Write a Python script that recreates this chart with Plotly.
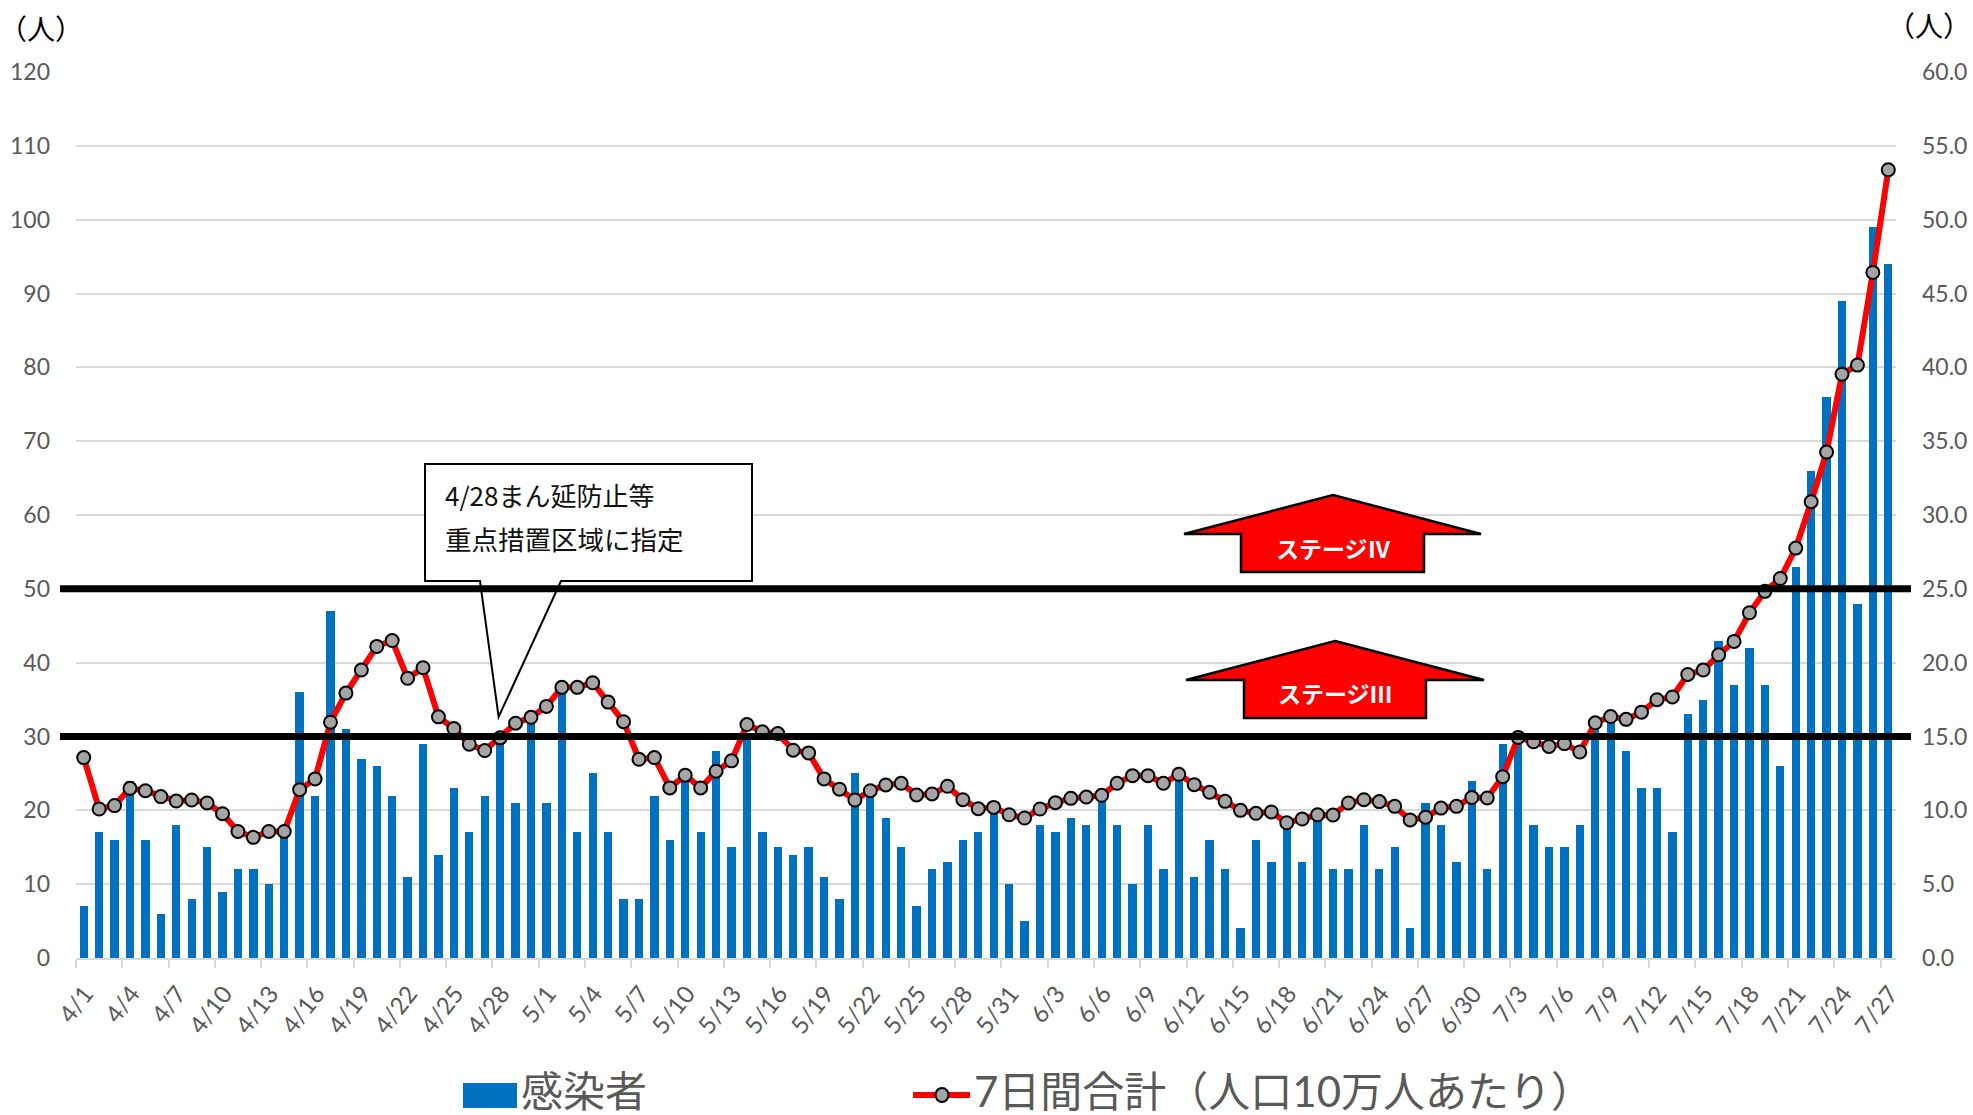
import plotly.graph_objects as go
from datetime import date, timedelta

START = date(2021, 4, 1)
cases = [7,17,16,24,16,6,18,8,15,9,12,12,10,17,36,22,47,31,27,26,22,11,29,14,23,17,22,29,21,32,
         21,36,17,25,17,8,8,22,16,24,17,28,15,30,17,15,14,15,11,8,25,22,19,15,7,12,13,16,17,20,10,
         5,18,17,19,18,22,18,10,18,12,24,11,16,12,4,16,13,18,13,19,12,12,18,12,15,4,21,18,13,24,
         12,29,30,18,15,15,18,32,32,28,23,23,17,33,35,43,37,42,37,26,53,66,76,89,48,99,94]
weekly = [13.57,10.09,10.32,11.49,11.33,10.93,10.63,10.70,10.5,9.77,8.57,8.17,8.57,8.57,11.4,12.13,
          15.97,17.94,19.5,21.1,21.5,18.94,19.66,16.33,15.54,14.48,14.05,14.91,15.9,16.3,
          17.04,18.33,18.33,18.64,17.33,16.0,13.46,13.57,11.52,12.38,11.52,12.65,13.35,15.81,15.32,
          15.2,14.07,13.89,12.13,11.43,10.7,11.33,11.72,11.83,11.04,11.11,11.63,10.72,10.11,10.2,9.7,
          9.48,10.09,10.52,10.81,10.9,11.02,11.83,12.35,12.35,11.83,12.44,11.74,11.22,10.61,10.0,9.8,
          9.89,9.16,9.41,9.7,9.68,10.5,10.72,10.59,10.27,9.35,9.54,10.15,10.27,10.87,
          10.84,12.28,14.94,14.64,14.33,14.52,13.95,15.93,16.35,16.16,16.65,17.49,17.68,19.2,19.5,
          20.53,21.44,23.38,24.83,25.7,27.76,30.9,34.26,39.54,40.15,46.43,53.38]
days = [START + timedelta(days=i) for i in range(len(cases))]
day_labels = [f"{d.month}/{d.day}" for d in days]
idx = list(range(len(days)))

W, H = 1973, 1115
L, R, T, B = 76, 1896, 72, 958
GREY = "#595959"; GRID = "#D9D9D9"; JP = "Noto Sans CJK JP"; LAT = "Lato"
MIX = "Lato, Noto Sans CJK JP"
def fx(p): return (p - L) / (R - L)
def fy(p): return (B - p) / (B - T)
def path(pts):
    return "M " + " L ".join(f"{fx(x):.5f},{fy(y):.5f}" for x, y in pts) + " Z"

fig = go.Figure()
fig.add_bar(x=idx, y=cases, width=0.54, marker=dict(color="#0070C0", line_width=0),
            name="感染者", yaxis="y", customdata=day_labels, showlegend=False)
fig.add_scatter(x=idx, y=weekly, yaxis="y2", mode="lines+markers", name="7日間合計（人口10万人あたり）",
                customdata=day_labels, showlegend=False,
                line=dict(color="#FF0000", width=6),
                marker=dict(size=13, color="#A5A5A5", line=dict(color="#000000", width=2)))

shapes = []
# callout
shapes.append(dict(type="path", xref="paper", yref="paper", layer="above",
    path=path([(425,464),(752,464),(752,581),(561,581),(498.6,717),(480,581),(425,581)]),
    fillcolor="#FFFFFF", line=dict(color="#000000", width=2)))
# stage thresholds
for v in (30, 50):
    shapes.append(dict(type="line", xref="paper", yref="y", layer="above",
                       x0=fx(60), x1=fx(1911), y0=v, y1=v, line=dict(color="#000000", width=7)))
# arrows
def arrow(cx, top, lw, rw, wing, sl, sr, bot):
    return dict(type="path", xref="paper", yref="paper", layer="above",
                path=path([(cx,top),(rw,wing),(sr,wing),(sr,bot),(sl,bot),(sl,wing),(lw,wing)]),
                fillcolor="#FF0000", line=dict(color="#000000", width=2.5))
shapes.append(arrow(1333,495,1184,1481,534,1241,1424,572))
shapes.append(arrow(1335,641,1186,1484,680,1244,1426,718))
# legend swatches
shapes.append(dict(type="rect", xref="paper", yref="paper", layer="above",
                   x0=fx(463), x1=fx(517), y0=fy(1108), y1=fy(1083),
                   fillcolor="#0070C0", line_width=0))
shapes.append(dict(type="line", xref="paper", yref="paper", layer="above",
                   x0=fx(913), x1=fx(970), y0=fy(1095), y1=fy(1095),
                   line=dict(color="#FF0000", width=6)))
shapes.append(dict(type="circle", xref="paper", yref="paper", layer="above",
                   x0=fx(935.5), x1=fx(948.5), y0=fy(1102), y1=fy(1088),
                   fillcolor="#A5A5A5", line=dict(color="#000000", width=2)))

def note(text, px, py, size, color, family=JP, anchor="left", bold=False, **kw):
    if bold: text = f"<b>{text}</b>"
    return dict(text=text, xref="paper", yref="paper", x=fx(px), y=fy(py), showarrow=False,
                xanchor=anchor, yanchor="middle", align=anchor,
                font=dict(size=size, color=color, family=family), **kw)
annotations = [
    note("（人）", 41, 28, 28, "#000000", anchor="center"),
    note("（人）", 1929, 25, 28, "#000000", anchor="center"),
    note("4/28まん延防止等", 443, 494, 26, "#111111"),
    note("重点措置区域に指定", 443, 538, 26.5, "#111111"),
    note("ステージⅣ", 1333, 547.5, 23, "#FFFFFF", anchor="center", bold=True),
    note("ステージⅢ", 1335, 693, 23, "#FFFFFF", anchor="center", bold=True),
    note("感染者", 519, 1091, 42, GREY, family=MIX),
    note("7日間合計（人口10万人あたり）", 972, 1091, 42, GREY, family=MIX),
]

label_idx = idx[::3]
fig.update_layout(
    width=W, height=H, margin=dict(l=L, r=W-R, t=T, b=H-B, autoexpand=False),
    paper_bgcolor="#FFFFFF", plot_bgcolor="#FFFFFF", showlegend=False, bargap=0,
    shapes=shapes, annotations=annotations,
    xaxis=dict(range=[-0.5, len(idx)-0.5], showgrid=False, zeroline=False,
               showline=True, linecolor=GRID, linewidth=2,
               tickmode="array", tickvals=[i + 0.1 for i in label_idx],
               ticktext=[day_labels[i] for i in label_idx],
               tickangle=-52, ticks="outside", ticklen=0, ticklabelstandoff=10,
               tickfont=dict(family=LAT, size=24, color=GREY),
               minor=dict(tickmode="array", tickvals=[i - 0.5 for i in label_idx],
                          ticks="outside", ticklen=8, tickwidth=2, tickcolor=GRID, showgrid=False)),
    yaxis=dict(range=[0, 120], tickvals=list(range(0, 121, 10)), showgrid=True, gridcolor=GRID,
               gridwidth=2, zeroline=False, showline=False, ticks="", ticklabelstandoff=25,
               tickfont=dict(family=LAT, size=23, color=GREY)),
    yaxis2=dict(range=[0, 60], tickvals=list(range(0, 61, 5)), tickformat=".1f", overlaying="y",
                side="right", showgrid=False, zeroline=False, showline=False, ticks="",
                ticklabelstandoff=25, tickfont=dict(family=LAT, size=23, color=GREY)),
)
fig.write_html("out.html", post_script="document.body.style.margin='0';",
               config={"displayModeBar": False})
